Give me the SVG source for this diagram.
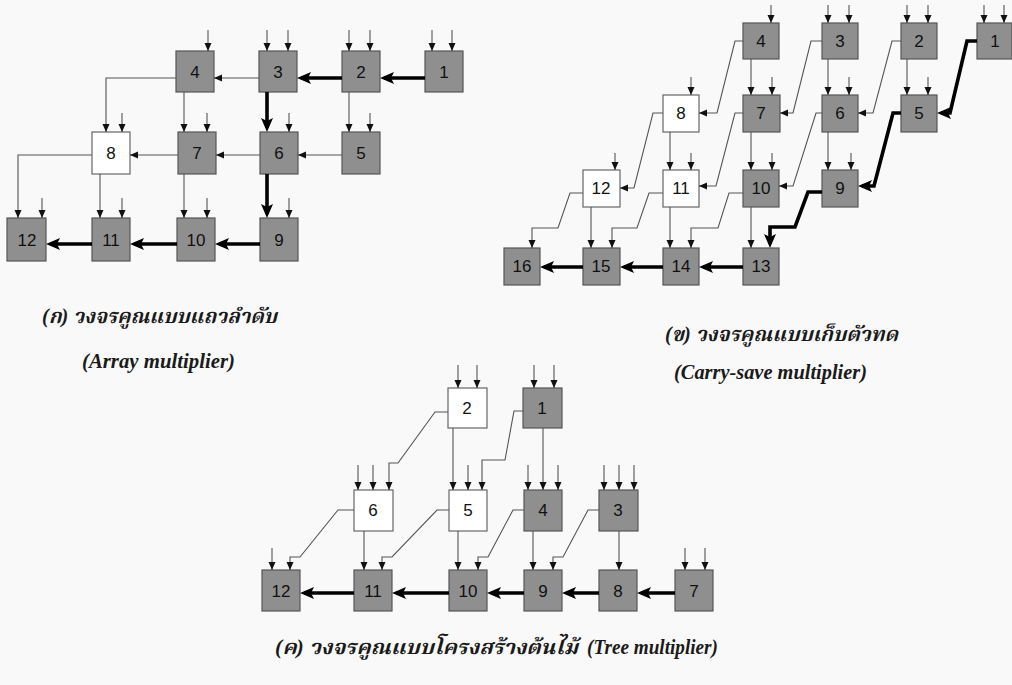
<svg xmlns="http://www.w3.org/2000/svg" width="1012" height="685" viewBox="0 0 1012 685">
  <defs>
    <marker id="ah" viewBox="0 0 8 8" refX="8" refY="4" markerWidth="8" markerHeight="8" markerUnits="userSpaceOnUse" orient="auto">
      <path d="M0,0.5 L8,4 L0,7.5 z" fill="#111"/>
    </marker>
    <marker id="AH" viewBox="0 0 14 12" refX="10" refY="6" markerWidth="14" markerHeight="12" markerUnits="userSpaceOnUse" orient="auto">
      <path d="M0,0 L14,6 L0,12 L3,6 z" fill="#000"/>
    </marker>
    <style>
      .g rect { fill: #8f8f8f; stroke: #555; stroke-width: 1.2; }
      .w rect { fill: #fff; stroke: #666; stroke-width: 1.2; }
      .node text { font-family: "Liberation Sans", Arial, sans-serif; font-size: 17px; fill: #111; text-anchor: middle; dominant-baseline: central; }
      .thin { fill: none; stroke: #555; stroke-width: 1.1; marker-end: url(#ah); }
      .thick { fill: none; stroke: #000; stroke-width: 3.6; marker-end: url(#AH); stroke-linejoin: miter; }
      .cap { font-family: "Liberation Serif", "Times New Roman", "Noto Serif Thai", "Noto Sans Thai", serif; font-style: italic; font-weight: bold; font-size: 20px; fill: #1a1a1a; }
    </style>
  </defs>
  <rect width="1012" height="685" fill="#f9f9f9"/>

  <!-- (a) array multiplier -->
  <g id="array">
    <g id="a1" class="node g"><rect x="425" y="51" width="38" height="41"/><text x="444" y="72">1</text></g>
    <g id="a2" class="node g"><rect x="342" y="51" width="38" height="41"/><text x="361" y="72">2</text></g>
    <g id="a3" class="node g"><rect x="259" y="51" width="38" height="41"/><text x="278" y="72">3</text></g>
    <g id="a4" class="node g"><rect x="176" y="51" width="38" height="41"/><text x="195" y="72">4</text></g>
    <g id="a5" class="node g"><rect x="342" y="132" width="38" height="42"/><text x="361" y="153">5</text></g>
    <g id="a6" class="node g"><rect x="260" y="132" width="38" height="42"/><text x="279" y="153">6</text></g>
    <g id="a7" class="node g"><rect x="178" y="132" width="38" height="42"/><text x="197" y="153">7</text></g>
    <g id="a8" class="node w"><rect x="92" y="132" width="38" height="42"/><text x="111" y="153">8</text></g>
    <g id="a9" class="node g"><rect x="260" y="218" width="38" height="43"/><text x="279" y="240">9</text></g>
    <g id="a10" class="node g"><rect x="177" y="218" width="38" height="43"/><text x="196" y="240">10</text></g>
    <g id="a11" class="node g"><rect x="92" y="218" width="38" height="43"/><text x="111" y="240">11</text></g>
    <g id="a12" class="node g"><rect x="7" y="218" width="39" height="43"/><text x="27" y="240">12</text></g>
  </g>

  <!-- (b) carry-save multiplier -->
  <g id="carrysave">
    <g id="b1" class="node g"><rect x="977" y="23" width="35" height="36"/><text x="995" y="41">1</text></g>
    <g id="b2" class="node g"><rect x="901" y="23" width="36" height="36"/><text x="919" y="41">2</text></g>
    <g id="b3" class="node g"><rect x="822" y="23" width="36" height="36"/><text x="840" y="41">3</text></g>
    <g id="b4" class="node g"><rect x="743" y="23" width="36" height="36"/><text x="761" y="41">4</text></g>
    <g id="b5" class="node g"><rect x="901" y="95" width="36" height="37"/><text x="919" y="113">5</text></g>
    <g id="b6" class="node g"><rect x="822" y="95" width="36" height="37"/><text x="840" y="113">6</text></g>
    <g id="b7" class="node g"><rect x="743" y="95" width="37" height="37"/><text x="761" y="113">7</text></g>
    <g id="b8" class="node w"><rect x="663" y="95" width="36" height="37"/><text x="681" y="113">8</text></g>
    <g id="b9" class="node g"><rect x="822" y="170" width="36" height="37"/><text x="840" y="188">9</text></g>
    <g id="b10" class="node g"><rect x="743" y="170" width="36" height="37"/><text x="761" y="188">10</text></g>
    <g id="b11" class="node w"><rect x="663" y="170" width="36" height="37"/><text x="681" y="188">11</text></g>
    <g id="b12" class="node w"><rect x="583" y="170" width="37" height="37"/><text x="601" y="188">12</text></g>
    <g id="b13" class="node g"><rect x="743" y="248" width="36" height="37"/><text x="761" y="266">13</text></g>
    <g id="b14" class="node g"><rect x="663" y="248" width="36" height="37"/><text x="681" y="266">14</text></g>
    <g id="b15" class="node g"><rect x="583" y="248" width="37" height="37"/><text x="601" y="266">15</text></g>
    <g id="b16" class="node g"><rect x="504" y="248" width="36" height="37"/><text x="522" y="266">16</text></g>
  </g>

  <!-- (c) tree multiplier -->
  <g id="tree">
    <g id="c1" class="node g"><rect x="523" y="388" width="39" height="40"/><text x="542" y="408">1</text></g>
    <g id="c2" class="node w"><rect x="448" y="388" width="39" height="40"/><text x="467" y="408">2</text></g>
    <g id="c3" class="node g"><rect x="599" y="490" width="39" height="41"/><text x="618" y="510">3</text></g>
    <g id="c4" class="node g"><rect x="524" y="490" width="38" height="41"/><text x="543" y="510">4</text></g>
    <g id="c5" class="node w"><rect x="449" y="490" width="38" height="41"/><text x="468" y="510">5</text></g>
    <g id="c6" class="node w"><rect x="354" y="490" width="39" height="41"/><text x="373" y="510">6</text></g>
    <g id="c7" class="node g"><rect x="675" y="570" width="38" height="41"/><text x="694" y="591">7</text></g>
    <g id="c8" class="node g"><rect x="599" y="570" width="38" height="41"/><text x="618" y="591">8</text></g>
    <g id="c9" class="node g"><rect x="524" y="570" width="38" height="41"/><text x="543" y="591">9</text></g>
    <g id="c10" class="node g"><rect x="449" y="570" width="38" height="41"/><text x="468" y="591">10</text></g>
    <g id="c11" class="node g"><rect x="354" y="570" width="38" height="41"/><text x="373" y="591">11</text></g>
    <g id="c12" class="node g"><rect x="262" y="570" width="38" height="41"/><text x="281" y="591">12</text></g>
  </g>

  <g id="connectors">
    <!-- (a) operand inputs -->
    <path class="thin" d="M432,30V51"/><path class="thin" d="M452,30V51"/>
    <path class="thin" d="M349,30V51"/><path class="thin" d="M370,30V51"/>
    <path class="thin" d="M267,30V51"/><path class="thin" d="M288,30V51"/>
    <path class="thin" d="M208,30V51"/>
    <path class="thin" d="M370,113V132"/>
    <path class="thin" d="M289,113V132"/>
    <path class="thin" d="M207,113V132"/>
    <path class="thin" d="M122,113V132"/>
    <path class="thin" d="M289,198V218"/>
    <path class="thin" d="M207,198V218"/>
    <path class="thin" d="M122,198V218"/>
    <path class="thin" d="M42,198V218"/>
    <!-- (a) cell to cell -->
    <path class="thin" d="M259,78H214"/>
    <path class="thin" d="M176,78H106V132"/>
    <path class="thin" d="M184,92V132"/>
    <path class="thin" d="M349,92V132"/>
    <path class="thin" d="M342,155H298"/>
    <path class="thin" d="M260,155H216"/>
    <path class="thin" d="M178,155H130"/>
    <path class="thin" d="M92,155H18V218"/>
    <path class="thin" d="M100,174V218"/>
    <path class="thin" d="M184,174V218"/>
    <!-- (a) critical path -->
    <path class="thick" d="M425,78H384"/>
    <path class="thick" d="M342,78H301"/>
    <path class="thick" d="M267,92V128"/>
    <path class="thick" d="M267,174V214"/>
    <path class="thick" d="M260,244H219"/>
    <path class="thick" d="M177,244H134"/>
    <path class="thick" d="M92,244H50"/>

    <!-- (b) operand inputs -->
    <path class="thin" d="M984,5V23"/><path class="thin" d="M1004,5V23"/>
    <path class="thin" d="M907,5V23"/><path class="thin" d="M928,5V23"/>
    <path class="thin" d="M828,5V23"/><path class="thin" d="M849,5V23"/>
    <path class="thin" d="M771,5V23"/>
    <path class="thin" d="M928,77V95"/>
    <path class="thin" d="M849,77V95"/>
    <path class="thin" d="M772,77V95"/>
    <path class="thin" d="M691,77V95"/>
    <path class="thin" d="M851,153V170"/>
    <path class="thin" d="M772,153V170"/>
    <path class="thin" d="M691,153V170"/>
    <path class="thin" d="M615,153V170"/>
    <!-- (b) sums -->
    <path class="thin" d="M751,59V95"/>
    <path class="thin" d="M828,59V95"/>
    <path class="thin" d="M907,59V95"/>
    <path class="thin" d="M670,132V170"/>
    <path class="thin" d="M751,132V170"/>
    <path class="thin" d="M828,132V170"/>
    <path class="thin" d="M591,207V248"/>
    <path class="thin" d="M670,207V248"/>
    <path class="thin" d="M751,207V248"/>
    <!-- (b) carries -->
    <path class="thin" d="M743,41H735L717,113H699"/>
    <path class="thin" d="M822,41H811L793,113H780"/>
    <path class="thin" d="M901,41H892L873,113H858"/>
    <path class="thin" d="M663,113H653L634,188H620"/>
    <path class="thin" d="M743,113H735L716,186H699"/>
    <path class="thin" d="M822,113H816L793,186H779"/>
    <path class="thin" d="M583,193H570L558,228H532V248"/>
    <path class="thin" d="M663,193H649L637,228H612V248"/>
    <path class="thin" d="M743,193H729L718,228H691V248"/>
    <!-- (b) critical path -->
    <path class="thick" d="M977,41H967L950,113H941"/>
    <path class="thick" d="M901,113H893L874,186H862"/>
    <path class="thick" d="M822,192H808L795,227H770V244"/>
    <path class="thick" d="M743,267H703"/>
    <path class="thick" d="M663,267H624"/>
    <path class="thick" d="M583,267H544"/>

    <!-- (c) operand inputs -->
    <path class="thin" d="M458,365V388"/><path class="thin" d="M477,365V388"/>
    <path class="thin" d="M534,365V388"/><path class="thin" d="M554,365V388"/>
    <path class="thin" d="M358,465V490"/><path class="thin" d="M373,465V490"/>
    <path class="thin" d="M468,465V490"/>
    <path class="thin" d="M528,465V490"/><path class="thin" d="M558,465V490"/>
    <path class="thin" d="M604,465V490"/><path class="thin" d="M619,465V490"/><path class="thin" d="M634,465V490"/>
    <path class="thin" d="M272,548V570"/>
    <path class="thin" d="M685,548V570"/><path class="thin" d="M705,548V570"/>
    <!-- (c) reduction tree -->
    <path class="thin" d="M448,412H435L398,463H389V490"/>
    <path class="thin" d="M453,428V490"/>
    <path class="thin" d="M523,411H514L505,460H482V490"/>
    <path class="thin" d="M543,428V490"/>
    <path class="thin" d="M364,531V570"/>
    <path class="thin" d="M458,531V570"/>
    <path class="thin" d="M533,531V570"/>
    <path class="thin" d="M619,531V570"/>
    <path class="thin" d="M354,510H338L300,557H290V570"/>
    <path class="thin" d="M449,510H437L392,557H382V570"/>
    <path class="thin" d="M524,510H513L488,557H478V570"/>
    <path class="thin" d="M599,510H588L563,557H553V570"/>
    <!-- (c) final adder chain -->
    <path class="thick" d="M675,593H641"/>
    <path class="thick" d="M599,593H566"/>
    <path class="thick" d="M524,593H491"/>
    <path class="thick" d="M449,593H396"/>
    <path class="thick" d="M354,593H304"/>
  </g>

  <g id="captions">
    <text class="cap" x="42" y="323" textLength="235" lengthAdjust="spacingAndGlyphs">(ก) วงจรคูณแบบแถวลำดับ</text>
    <text class="cap" x="82" y="368" textLength="153" lengthAdjust="spacingAndGlyphs">(Array multiplier)</text>
    <text class="cap" x="665" y="341" textLength="233" lengthAdjust="spacingAndGlyphs">(ข) วงจรคูณแบบเก็บตัวทด</text>
    <text class="cap" x="674" y="379" textLength="193" lengthAdjust="spacingAndGlyphs">(Carry-save multiplier)</text>
    <text class="cap" x="275" y="654" textLength="303" lengthAdjust="spacingAndGlyphs">(ค) วงจรคูณแบบโครงสร้างต้นไม้</text>
    <text class="cap" x="587" y="654" textLength="131" lengthAdjust="spacingAndGlyphs">(Tree multiplier)</text>
  </g>
</svg>
